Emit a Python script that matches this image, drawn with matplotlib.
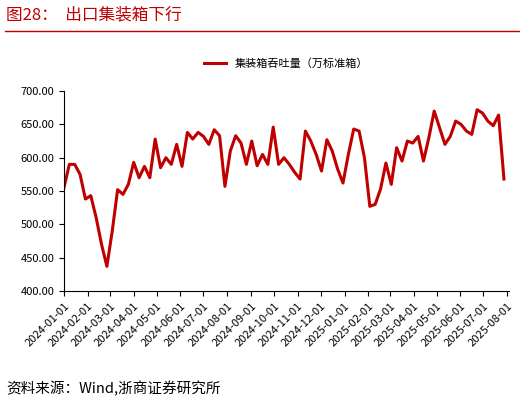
import numpy as np
import pandas as pd
import matplotlib
matplotlib.use('Agg')
import matplotlib.pyplot as plt

plt.rcParams['font.family'] = ['Noto Sans CJK SC', 'DejaVu Sans']

values = [555, 590, 590, 575, 538, 543, 510, 470, 437, 490, 552, 545, 560, 593, 570,
          587, 570, 628, 585, 600, 590, 620, 587, 638, 628, 638, 632, 620, 642, 633,
          557, 610, 633, 622, 590, 625, 588, 605, 590, 646, 590, 600, 590,
          578, 568, 640, 625, 605, 580, 627, 610, 583, 562,
          605, 643, 640, 600, 527, 530, 553, 592, 560, 615,
          595, 625, 622, 632, 595, 630, 670, 645, 620, 632,
          655, 650, 640, 635, 672, 667, 655, 648, 664, 568]
dates = pd.date_range('2024-01-01', periods=len(values), freq='7D')
ticks = pd.date_range('2024-01-01', '2025-08-01', freq='MS')

fig = plt.figure(figsize=(5.2, 4.03), dpi=100)
fig.text(0.012, 0.952, '图28：  出口集装箱下行', fontsize=12, color='#c00000')
fig.add_artist(plt.Line2D([0.01, 1.0], [0.922, 0.922], color='#c00000', lw=1))
fig.text(0.012, 0.025, '资料来源：Wind,浙商证券研究所', fontsize=10.5)

ax = fig.add_axes([0.123, 0.278, 0.855, 0.496])
ax.plot(dates, values, color='#c00000', lw=2.2, label='集装箱吞吐量（万标准箱）')
ax.set_ylim(400, 700)
ax.set_yticks(np.arange(400, 701, 50))
ax.yaxis.set_major_formatter(matplotlib.ticker.FormatStrFormatter('%.2f'))
ax.set_xlim(ticks[0], ticks[-1] + pd.Timedelta(days=2))
ax.set_xticks(ticks)
ax.set_xticklabels([t.strftime('%Y-%m-%d') for t in ticks], rotation=45, ha='right',
                   rotation_mode='anchor', fontsize=8)
ax.tick_params(axis='y', labelsize=8)
for s in ['top', 'right']:
    ax.spines[s].set_visible(False)
ax.legend(loc='lower center', bbox_to_anchor=(0.5, 1.06), frameon=False, fontsize=8)

fig.savefig('out.png')
